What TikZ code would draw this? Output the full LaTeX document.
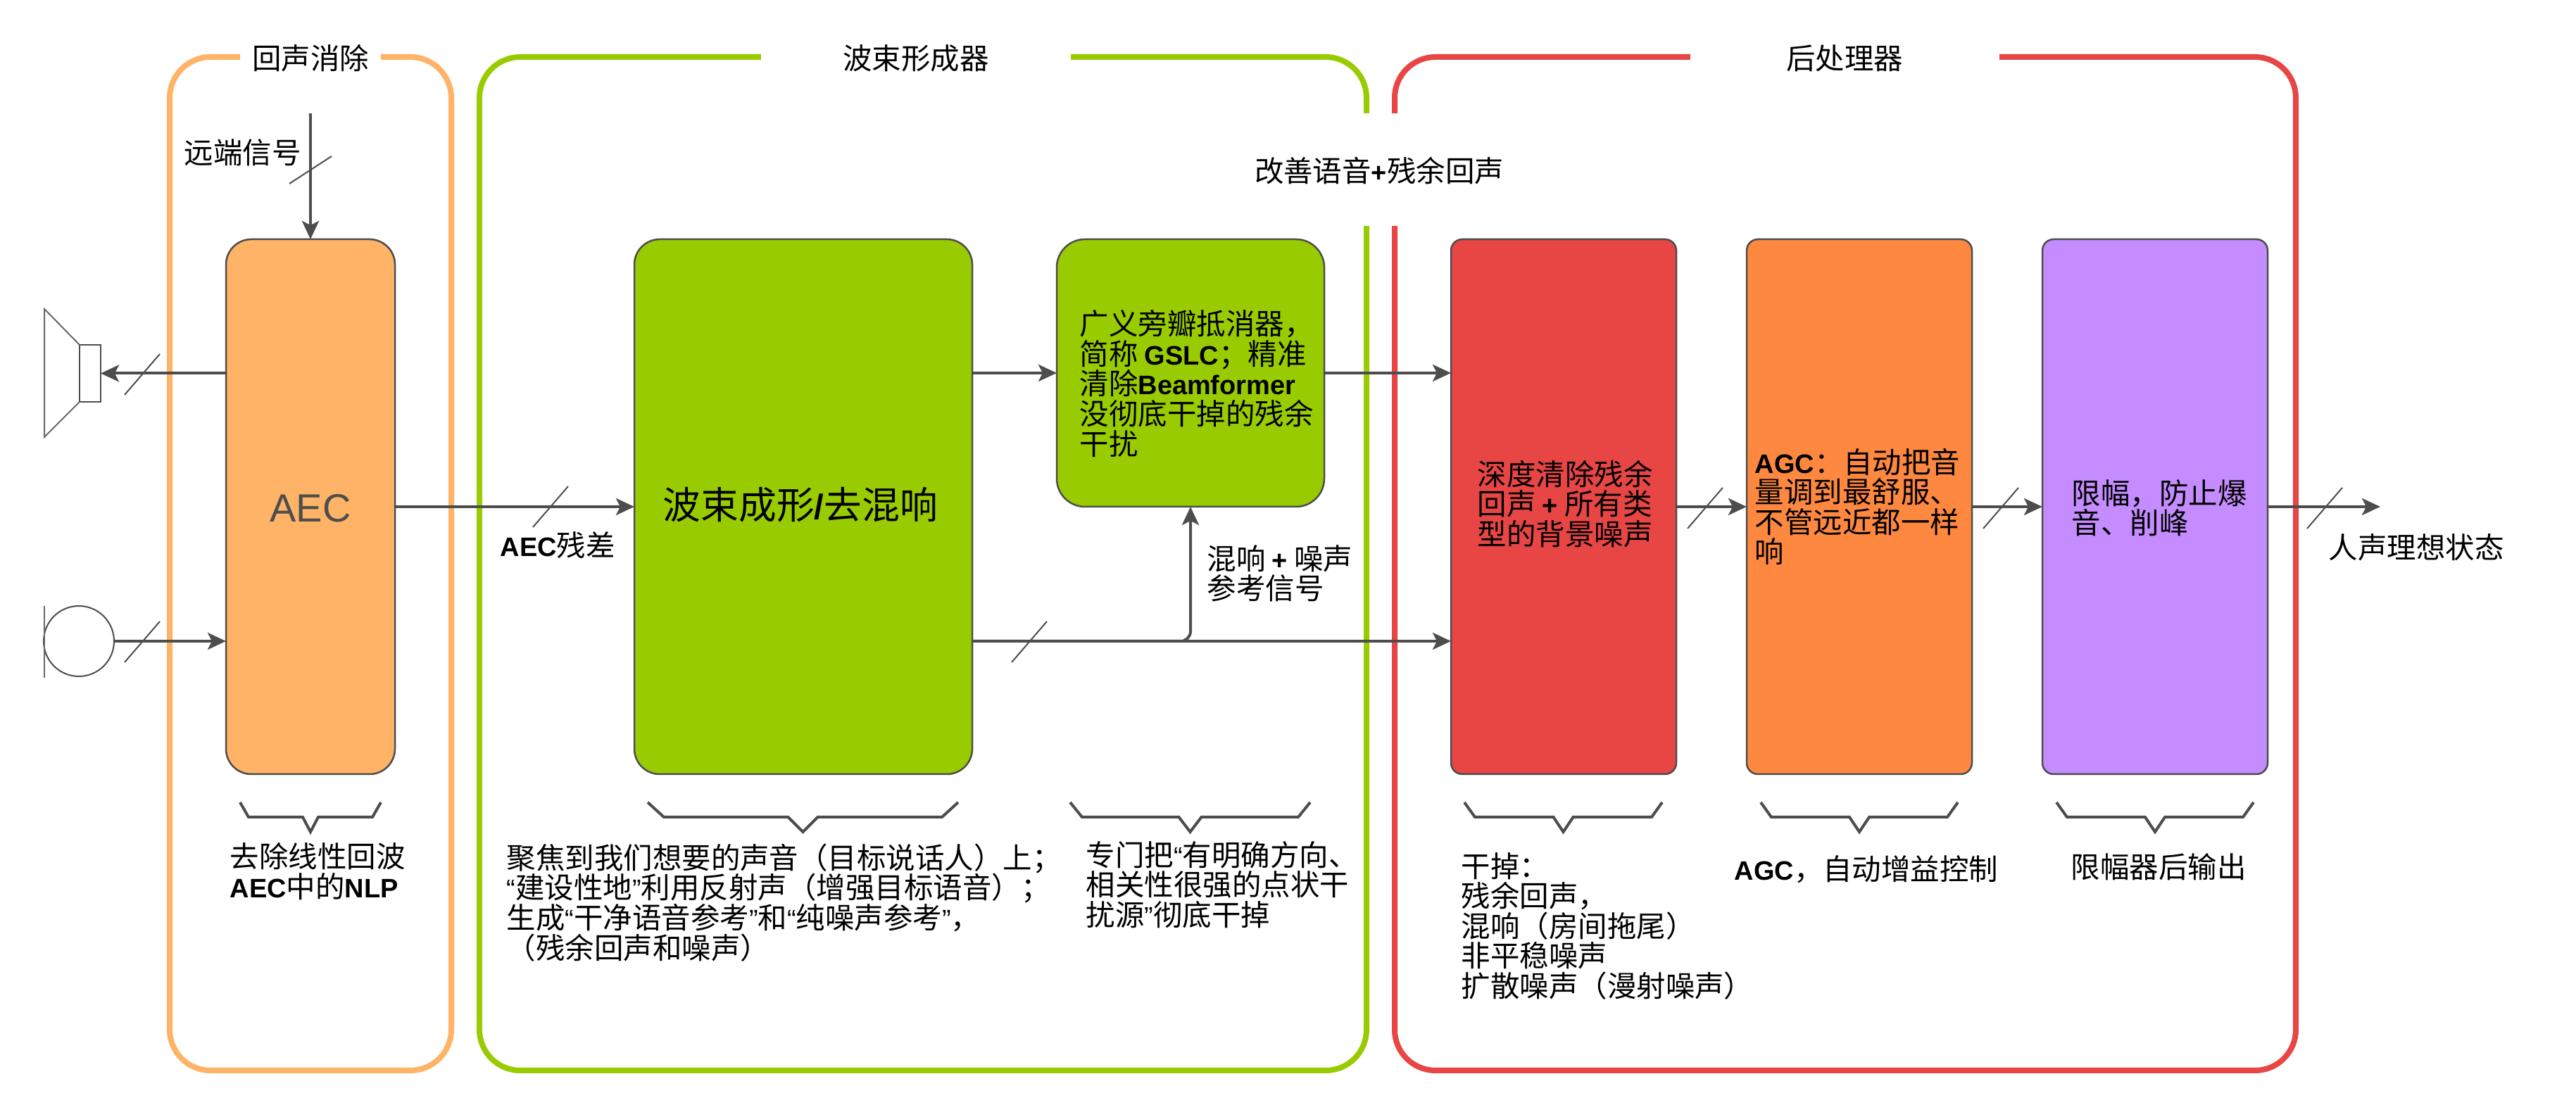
\documentclass[tikz,border=0pt]{standalone}
\usepackage{fontspec}
\setmainfont{Noto Sans CJK SC}
\newfontfamily\latinfont[Scale=.915]{Liberation Sans}
\usetikzlibrary{arrows.meta,positioning}
\definecolor{aecorange}{HTML}{FFB366}
\definecolor{beamgreen}{HTML}{99CC00}
\definecolor{postred}{HTML}{E84545}
\definecolor{agcorange}{HTML}{FF8840}
\definecolor{limpurple}{HTML}{C48CFF}
\definecolor{wiregray}{HTML}{4D4D4D}
\newcommand{\lat}[1]{{\latinfont\bfseries #1}}
\newcommand{\quoteL}{{\latinfont “}}
\newcommand{\quoteR}{{\latinfont ”}}
\tikzset{
  group/.style={draw=#1,line width=.08cm,rounded corners=.58cm,minimum height=14.4cm,outer sep=0},
  grouptitle/.style={fill=white,inner sep=0,minimum height=.6cm},
  block/.style={draw=wiregray,fill=#1,line width=.025cm,minimum height=7.6cm,outer sep=0,inner sep=0},
  wire/.style={draw=wiregray,line width=.04cm,-{Stealth[length=.26cm,width=.24cm,inset=.06cm]}},
  slashmark/.style={draw=wiregray,line width=.02cm},
  bracket/.style={draw=wiregray,line width=.04cm,miter limit=10},
  note/.style={anchor=west,align=left,inner sep=0},
  device/.style={draw=wiregray!85,line width=.02cm},
}
\begin{document}
\begin{tikzpicture}[font=\fontsize{11.8}{12.1}\selectfont]
\useasboundingbox (0,0) rectangle (36.59,-15.8);
% the three stages
\node[group=aecorange,minimum width=4cm] (aecgroup) at (4.41,-8.01) {};
\node[group=beamgreen,minimum width=12.6cm] (beamgroup) at (13.11,-8.01) {};
\node[group=postred,minimum width=12.8cm] (postgroup) at (26.21,-8.01) {};
\node[grouptitle,minimum width=2cm] (aectitle) at (4.41,-.83) {回声消除};
\node[grouptitle,minimum width=4.4cm] (beamtitle) at (13.01,-.83) {波束形成器};
\node[grouptitle,minimum width=4.39cm] (posttitle) at (26.2,-.83) {后处理器};
\node[fill=white,inner sep=0,minimum height=1.6cm,text height=.5cm,text depth=.14cm] (midtitle) at (19.59,-2.41) {改善语音\lat{+}残余回声};
% blocks
\node[block=aecorange,minimum width=2.4cm,rounded corners=.36cm,text=wiregray,text height=.6cm,text depth=.16cm,font=\latinfont\fontsize{17.4}{20}\selectfont] (aec) at (4.41,-7.2) {AEC};
\node[block=beamgreen,minimum width=4.8cm,rounded corners=.36cm,right=3.4cm of aec] (beam) {};
\node[block=beamgreen,minimum width=3.8cm,minimum height=3.8cm,rounded corners=.4cm] (gslc) at (16.91,-5.3) {};
\node[block=postred,minimum width=3.2cm,rounded corners=.16cm,right=6.8cm of beam] (deep) {};
\node[block=agcorange,minimum width=3.2cm,rounded corners=.16cm,right=1cm of deep] (agc) {};
\node[block=limpurple,minimum width=3.2cm,rounded corners=.16cm,right=1cm of agc] (limiter) {};
% texts in the blocks
\node[note,font=\fontsize{15.3}{18}\selectfont] (beamtext) at (9.41,-7.17) {波束成形\lat{/}去混响};
\node[note] (gslctext) at (15.33,-5.45) {广义旁瓣抵消器，\\简称 \lat{GSLC}；精准\\清除\lat{Beamformer}\\没彻底干掉的残余\\干扰};
\node[note] (deeptext) at (20.98,-7.16) {深度清除残余\\回声 \lat{+} 所有类\\型的背景噪声};
\node[note] (agctext) at (24.92,-7.2) {\lat{AGC}：自动把音\\量调到最舒服、\\不管远近都一样\\响};
\node[note] (limtext) at (29.42,-7.22) {限幅，防止爆\\音、削峰};
% speaker and microphone
\node[draw=wiregray,line width=.02cm,minimum width=.3cm,minimum height=.81cm,inner sep=0,outer sep=0] (speaker) at (1.28,-5.305) {};
\draw[device] (speaker.north west) -- (.63,-4.39) -- (.63,-6.21) -- (speaker.south west);
\node[draw=wiregray,line width=.02cm,circle,minimum size=1cm,inner sep=0,outer sep=0] (mic) at (1.12,-9.11) {};
\draw[device] (.63,-8.61) -- (.63,-9.63);
% wires
\coordinate (farend) at (4.41,-1.61);
\coordinate (voiceout) at (33.81,-7.2);
\draw[wire] (farend) -- (aec.north);
\draw[wire] (aec.west |- speaker.east) -- (speaker.east);
\draw[wire] (mic.east) -- (aec.west |- mic.east);
\draw[wire] (aec.east) -- (beam.west);
\draw[wire] (beam.east |- gslc.west) -- (gslc.west);
\draw[wire] (gslc.east) -- (gslc.east -| deep.west);
\draw[wire] (beam.east |- mic.east) -- (deep.west |- mic.east);
\draw[wire,rounded corners=.14cm] (beam.east |- mic.east) -- (gslc.south |- mic.east) -- (gslc.south);
\draw[wire] (deep.east) -- (agc.west);
\draw[wire] (agc.east) -- (limiter.west);
\draw[wire] (limiter.east) -- (voiceout);
\draw[slashmark] (4.11,-2.61) -- +(.6,.39);
\foreach \sx/\sy in {1.77/-5.61,1.77/-9.41,7.57/-7.49,14.37/-9.41,23.97/-7.51,28.17/-7.51,32.77/-7.51}
  \draw[slashmark] (\sx,\sy) -- +(.5,.58);
% brackets under the blocks
\foreach \bl/\br/\barm/\btip in {3.41/5.41/.12/.11,9.2/13.61/.23/.21,15.2/18.61/.17/.16,20.8/23.61/.15/.14,25.01/27.81/.15/.14,29.21/32.01/.15/.14}{
  \pgfmathsetmacro{\bmid}{(\bl+\br)/2}
  \draw[bracket] (\bl,-11.4) -- (\bl+\barm,-11.61) -- (\bmid-\btip,-11.61) -- (\bmid,-11.82) -- (\bmid+\btip,-11.61) -- (\br-\barm,-11.61) -- (\br,-11.4);
}
% labels
\node[note] (farlabel) at (2.61,-2.17) {远端信号};
\node[note] (residual) at (7.1,-7.75) {\lat{AEC}残差};
\node[note] (mixlabel) at (17.14,-8.15) {混响 \lat{+} 噪声\\参考信号};
\node[note] (voicelabel) at (33.07,-7.78) {人声理想状态};
\node[note] (aecnote) at (3.26,-12.38) {去除线性回波\\\lat{AEC}中的\lat{NLP}};
\node[note] (beamnote) at (7.19,-12.825) {聚焦到我们想要的声音（目标说话人）上；\\\quoteL 建设性地\quoteR 利用反射声（增强目标语音）；\\生成\quoteL 干净语音参考\quoteR 和\quoteL 纯噪声参考\quoteR ，\\（残余回声和噪声）};
\node[note] (gslcnote) at (15.42,-12.57) {专门把\quoteL 有明确方向、\\相关性很强的点状干\\扰源\quoteR 彻底干掉};
\node[note] (deepnote) at (20.75,-13.16) {干掉：\\残余回声，\\混响（房间拖尾）\\非平稳噪声\\扩散噪声（漫射噪声）};
\node[note] (agcnote) at (24.63,-12.35) {\lat{AGC}，自动增益控制};
\node[note] (limnote) at (29.41,-12.32) {限幅器后输出};
\end{tikzpicture}
\end{document}
